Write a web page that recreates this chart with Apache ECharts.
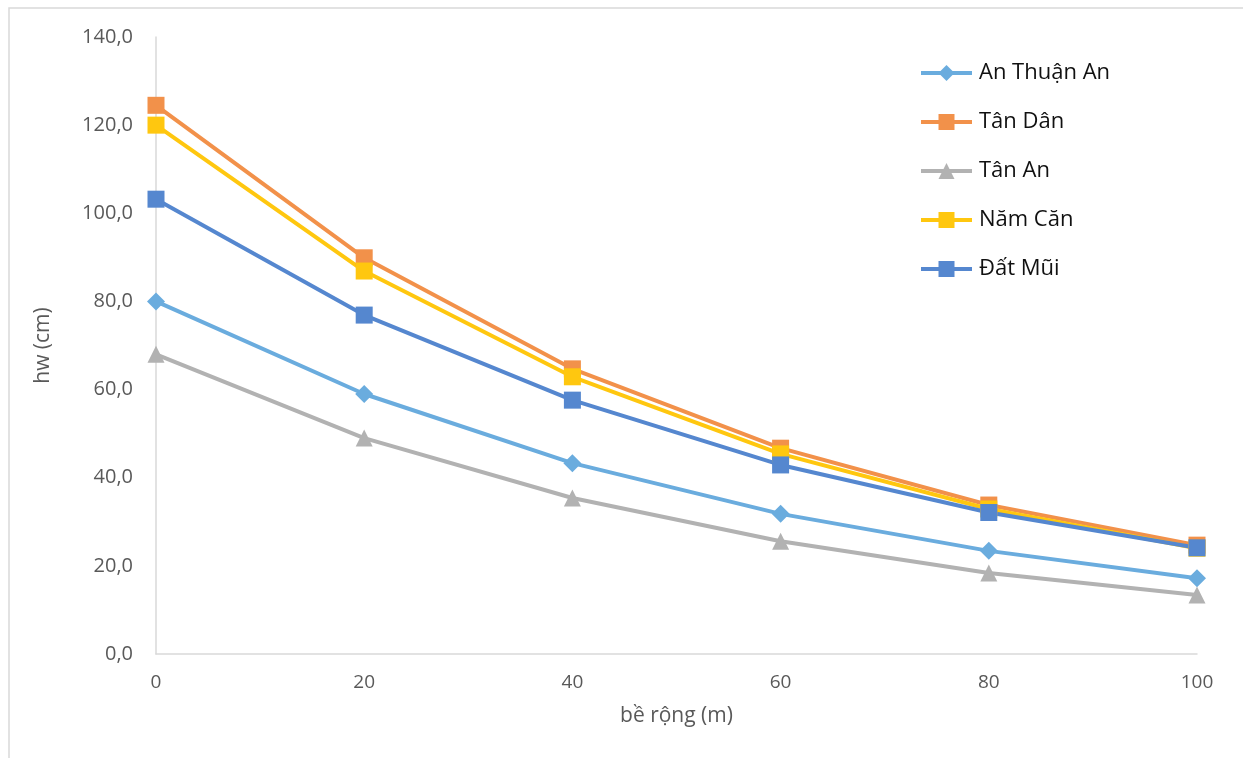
<!DOCTYPE html>
<html>
<head>
<meta charset="utf-8">
<script src="https://cdn.jsdelivr.net/npm/echarts@6/dist/echarts.min.js"></script>
<style>
  html, body { margin: 0; padding: 0; background: #ffffff; }
  #chart { width: 1243px; height: 758px; }
</style>
</head>
<body>
<div id="chart"></div>
<script>
// Bề rộng (m) và chiều cao sóng hw (cm) tại các vị trí
const widths = [0, 20, 40, 60, 80, 100];
const anThuanAn = [80.0, 59.0, 43.3, 31.8, 23.4, 17.2];
const tanDan = [124.5, 89.9, 64.7, 46.7, 33.8, 24.7];
const tanAn = [68.0, 49.0, 35.4, 25.6, 18.4, 13.4];
const namCan = [120.0, 86.9, 62.9, 45.4, 32.9, 24.0];
const datMui = [103.2, 76.9, 57.6, 42.9, 32.1, 24.1];

const seriesNames = ['An Thuận An', 'Tân Dân', 'Tân An', 'Năm Căn', 'Đất Mũi'];
const seriesValues = [anThuanAn, tanDan, tanAn, namCan, datMui];
const seriesColors = ['#6AACDE', '#F2914A', '#B2B2B2', '#FFC70F', '#5587CF'];
const seriesSymbols = ['diamond', 'rect', 'triangle', 'rect', 'rect'];
const symbolSizes = [18, 17, 17, 17, 17];

const font = '"Open Sans", "Noto Sans", sans-serif';
const chart = echarts.init(document.getElementById('chart'), null, { renderer: 'canvas' });

const series = seriesNames.map((name, i) => ({
  name: name,
  type: 'line',
  data: widths.map((w, j) => [w, seriesValues[i][j]]),
  symbol: seriesSymbols[i],
  symbolSize: symbolSizes[i],
  showAllSymbol: true,
  color: seriesColors[i],
  lineStyle: { width: 4, color: seriesColors[i] },
  itemStyle: { color: seriesColors[i], borderWidth: 0 },
  emphasis: { disabled: true },
  animation: false
}));

chart.setOption({
  backgroundColor: '#ffffff',
  animation: false,
  graphic: [{
    type: 'rect',
    shape: { x: 9, y: 8, width: 1300, height: 800 },
    style: { fill: 'none', stroke: '#D9D9D9', lineWidth: 1.5 },
    silent: true
  }],
  grid: { left: 156, right: 46, top: 37, bottom: 104, containLabel: false },
  legend: {
    orient: 'vertical',
    left: 914,
    top: 56,
    itemGap: 25,
    itemWidth: 51,
    itemHeight: 20,
    lineStyle: { width: 4 },
    textStyle: { fontFamily: font, fontSize: 22, lineHeight: 24, color: '#111111', padding: [0, 0, 0, 2] },
    data: seriesNames
  },
  xAxis: {
    type: 'value',
    min: 0,
    max: 100,
    interval: 20,
    name: 'bề rộng (m)',
    nameLocation: 'middle',
    nameGap: 52,
    nameTextStyle: { fontFamily: font, fontSize: 21, color: '#595959' },
    axisLine: { show: true, lineStyle: { color: '#D9D9D9', width: 1.5 } },
    axisTick: { show: false },
    splitLine: { show: false },
    axisLabel: { fontFamily: font, fontSize: 19, color: '#595959', margin: 19 }
  },
  yAxis: {
    type: 'value',
    min: 0,
    max: 140,
    interval: 20,
    name: 'hw (cm)',
    nameLocation: 'middle',
    nameGap: 102,
    nameRotate: 90,
    nameTextStyle: { fontFamily: font, fontSize: 21, color: '#595959' },
    axisLine: { show: true, onZero: false, lineStyle: { color: '#D9D9D9', width: 1.5 } },
    axisTick: { show: false },
    splitLine: { show: false },
    axisLabel: {
      fontFamily: font, fontSize: 20, color: '#595959', margin: 23,
      formatter: v => v.toFixed(1).replace('.', ',')
    }
  },
  series: series
});
</script>
</body>
</html>
